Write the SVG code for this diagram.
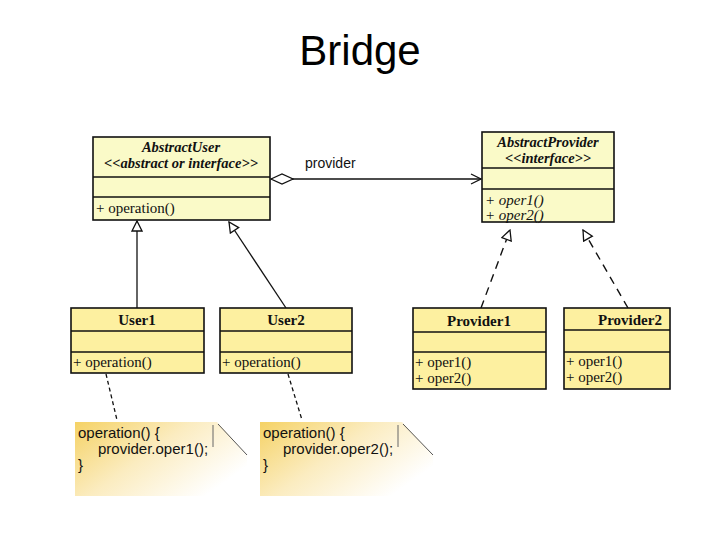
<svg xmlns="http://www.w3.org/2000/svg" width="720" height="540" viewBox="0 0 720 540">
<defs>
<style>
.title{font-family:"Liberation Sans",Arial,sans-serif;font-size:42px;fill:#000}
.cls{stroke:#111;stroke-width:1.6}
.abs{fill:#fafac8}
.con{fill:#fdf0a0}
.tb{font-family:"Liberation Serif","Times New Roman",serif;font-size:15px;font-weight:bold;fill:#111}
.tbi{font-family:"Liberation Serif","Times New Roman",serif;font-size:14.5px;font-weight:bold;font-style:italic;fill:#111}
.t{font-family:"Liberation Serif","Times New Roman",serif;font-size:15px;fill:#111}
.ti{font-family:"Liberation Serif","Times New Roman",serif;font-size:15px;font-style:italic;fill:#111}
.lbl{font-family:"Liberation Sans",Arial,sans-serif;font-size:14px;fill:#111}
.note{font-family:"Liberation Sans",Arial,sans-serif;font-size:15px;fill:#111}
.ln{fill:none;stroke:#111;stroke-width:1.3}
.dash{fill:none;stroke:#111;stroke-width:1.4;stroke-dasharray:8,6}
.dot{fill:none;stroke:#111;stroke-width:1.3;stroke-dasharray:4,3}
</style>
<linearGradient id="ng" x1="0" y1="0" x2="1" y2="0.6">
<stop offset="0" stop-color="#f5d265"/>
<stop offset="0.5" stop-color="#fbecc0"/>
<stop offset="1" stop-color="#ffffff"/>
</linearGradient>
<marker id="tri" viewBox="0 0 12 12" refX="11" refY="6" markerWidth="12" markerHeight="12" markerUnits="userSpaceOnUse" orient="auto">
<path d="M1,1 L11,6 L1,11 Z" fill="#fff" stroke="#111" stroke-width="1.3"/>
</marker>
<marker id="open" viewBox="0 0 12 12" refX="11" refY="6" markerWidth="12" markerHeight="12" markerUnits="userSpaceOnUse" orient="auto">
<path d="M1,1 L11,6 L1,11" fill="none" stroke="#111" stroke-width="1.3"/>
</marker>
<marker id="dia" viewBox="0 0 24 12" refX="1" refY="6" markerWidth="24" markerHeight="12" markerUnits="userSpaceOnUse" orient="auto">
<path d="M1,6 L12,1 L23,6 L12,11 Z" fill="#fff" stroke="#111" stroke-width="1.3"/>
</marker>
</defs>
<rect width="720" height="540" fill="#fff"/>
<text class="title" x="360" y="65" text-anchor="middle">Bridge</text>

<g id="connectors">
<line class="ln" x1="271" y1="179" x2="481" y2="179" marker-start="url(#dia)" marker-end="url(#open)"/>
<text class="lbl" x="305" y="168">provider</text>
<line class="ln" x1="137" y1="308" x2="137" y2="221" marker-end="url(#tri)"/>
<line class="ln" x1="286" y1="308" x2="229" y2="222" marker-end="url(#tri)"/>
<line class="dash" x1="481" y1="308" x2="510" y2="230" marker-end="url(#tri)"/>
<line class="dash" x1="628" y1="308" x2="583" y2="230" marker-end="url(#tri)"/>
<line class="dot" x1="106" y1="374" x2="117" y2="420"/>
<line class="dot" x1="288" y1="374" x2="302" y2="420"/>
</g>

<g id="AbstractUser">
<rect class="cls abs" x="93" y="137" width="177" height="83"/>
<line class="cls" x1="93" y1="177" x2="270" y2="177" stroke-width="2"/>
<line class="cls" x1="93" y1="197" x2="270" y2="197"/>
<text class="tbi" x="181" y="152" text-anchor="middle">AbstractUser</text>
<text class="tbi" x="181" y="168" text-anchor="middle">&lt;&lt;abstract or interface&gt;&gt;</text>
<text class="t" x="96" y="213">+ operation()</text>
</g>

<g id="AbstractProvider">
<rect class="cls abs" x="482" y="132" width="132" height="90"/>
<line class="cls" x1="482" y1="168" x2="614" y2="168"/>
<line class="cls" x1="482" y1="189" x2="614" y2="189"/>
<text class="tbi" x="548" y="147" text-anchor="middle">AbstractProvider</text>
<text class="tbi" x="548" y="163" text-anchor="middle">&lt;&lt;interface&gt;&gt;</text>
<text class="ti" x="485" y="205">+ oper1()</text>
<text class="ti" x="485" y="220">+ oper2()</text>
</g>

<g id="User1">
<rect class="cls con" x="71" y="308" width="133" height="65"/>
<line class="cls" x1="71" y1="331" x2="204" y2="331"/>
<line class="cls" x1="71" y1="352" x2="204" y2="352"/>
<text class="tb" x="137" y="325" text-anchor="middle">User1</text>
<text class="t" x="73" y="367">+ operation()</text>
</g>

<g id="User2">
<rect class="cls con" x="220" y="308" width="132" height="65"/>
<line class="cls" x1="220" y1="331" x2="352" y2="331"/>
<line class="cls" x1="220" y1="352" x2="352" y2="352"/>
<text class="tb" x="286" y="325" text-anchor="middle">User2</text>
<text class="t" x="222" y="367">+ operation()</text>
</g>

<g id="Provider1">
<rect class="cls con" x="413" y="308" width="133" height="81"/>
<line class="cls" x1="413" y1="332" x2="546" y2="332"/>
<line class="cls" x1="413" y1="352" x2="546" y2="352" stroke-width="2.5"/>
<text class="tb" x="479" y="326" text-anchor="middle">Provider1</text>
<text class="t" x="415" y="367">+ oper1()</text>
<text class="t" x="415" y="383">+ oper2()</text>
</g>

<g id="Provider2">
<rect class="cls con" x="564" y="308" width="106" height="81"/>
<line class="cls" x1="564" y1="330" x2="670" y2="330"/>
<line class="cls" x1="564" y1="352" x2="670" y2="352"/>
<text class="tb" x="630" y="325" text-anchor="middle">Provider2</text>
<text class="t" x="566" y="366">+ oper1()</text>
<text class="t" x="566" y="382">+ oper2()</text>
</g>

<g id="Note1">
<path d="M75,422 L217,422 L247,455 L247,496 L75,496 Z" fill="url(#ng)"/>
<line x1="213" y1="425" x2="213" y2="447" stroke="#666" stroke-width="1"/>
<line x1="218" y1="424" x2="247" y2="455" stroke="#555" stroke-width="1"/>
<text class="note" x="78" y="438">operation() {</text>
<text class="note" x="98" y="454">provider.oper1();</text>
<text class="note" x="78" y="470">}</text>
</g>

<g id="Note2">
<path d="M260,422 L402,422 L433,455 L433,496 L260,496 Z" fill="url(#ng)"/>
<line x1="398" y1="425" x2="398" y2="447" stroke="#666" stroke-width="1"/>
<line x1="403" y1="424" x2="433" y2="455" stroke="#555" stroke-width="1"/>
<text class="note" x="263" y="438">operation() {</text>
<text class="note" x="283" y="454">provider.oper2();</text>
<text class="note" x="263" y="470">}</text>
</g>
</svg>
